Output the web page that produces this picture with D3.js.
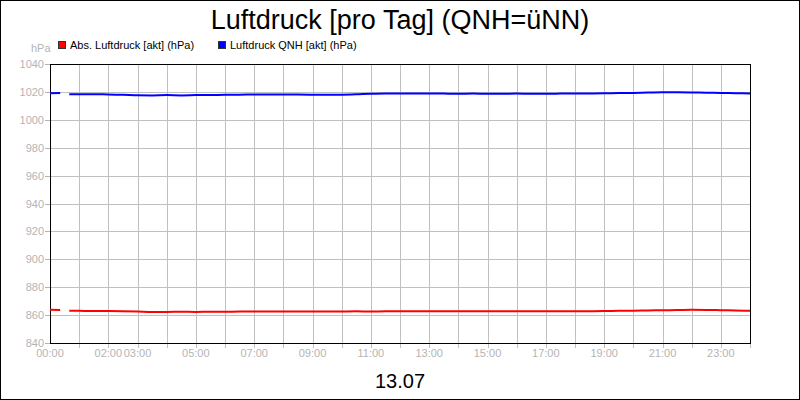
<!DOCTYPE html>
<html>
<head>
<meta charset="utf-8">
<script src="https://cdn.jsdelivr.net/npm/d3@7"></script>
<style>
  body { margin: 0; background: #fff; }
  svg { display: block; font-family: "Liberation Sans", Arial, sans-serif; }
</style>
</head>
<body>
<svg id="chart"></svg>
<script>
// Data (hour of day -> hPa), null = no data
var hours = [0, 0.35, 0.5, 0.66, 1, 1.5, 2, 2.5, 3, 3.5, 4, 4.5, 5, 5.5, 6, 6.5, 7, 7.5, 8, 8.5, 9, 9.5, 10, 10.5, 11, 11.5, 12,
  12.5, 13, 13.5, 14, 14.5, 15, 15.5, 16, 16.5, 17, 17.5, 18, 18.5, 19, 19.5, 20, 20.5, 21, 21.5, 22, 22.5, 23, 23.5, 24]
var qnh = [1019.0, 1019.3, null, 1018.3, 1018.3, 1018.4, 1018.1, 1017.9, 1017.6, 1017.5, 1017.7, 1017.5, 1017.7, 1017.8, 1017.9, 1018.0,
  1018.1, 1018.2, 1018.2, 1018.1, 1018.0, 1017.9, 1018.0, 1018.3, 1018.7, 1018.9, 1018.8, 1018.8, 1018.9, 1018.8, 1018.7,
  1018.8, 1018.7, 1018.7, 1018.8, 1018.7, 1018.7, 1018.8, 1018.9, 1018.9, 1019.0, 1019.2, 1019.3, 1019.5, 1019.7, 1019.7,
  1019.6, 1019.4, 1019.3, 1019.1, 1018.9]
var absolut = [863.8, 863.6, null, 863.2, 863.1, 862.9, 862.9, 862.8, 862.6, 862.3, 862.3, 862.4, 862.3, 862.4, 862.4, 862.5,
  862.5, 862.6, 862.6, 862.5, 862.5, 862.5, 862.6, 862.7, 862.6, 862.7, 862.7, 862.7, 862.8, 862.7, 862.7,
  862.8, 862.7, 862.7, 862.7, 862.8, 862.7, 862.8, 862.8, 862.8, 862.9, 863.1, 863.2, 863.3, 863.5, 863.6,
  863.8, 863.7, 863.5, 863.3, 863.1]
var yTicks = [840, 860, 880, 900, 920, 940, 960, 980, 1000, 1020, 1040]
var xLabels = ['00:00', '02:00', '03:00', '05:00', '07:00', '09:00', '11:00', '13:00', '15:00', '17:00', '19:00', '21:00', '23:00']
var xLabelHours = [0, 2, 3, 5, 7, 9, 11, 13, 15, 17, 19, 21, 23]
var series = [
  { name: 'Abs. Luftdruck [akt] (hPa)', color: '#ff0000', values: absolut },
  { name: 'Luftdruck QNH [akt] (hPa)', color: '#0000ff', values: qnh }
]

var width = 800,
    height = 400,
    grey = '#b4b4b4',
    gridColor = '#c0c0c0'

var svg = d3.select('#chart')
  .attr('width', width)
  .attr('height', height)

svg.append('rect')
  .attr('x', 0.5).attr('y', 0.5)
  .attr('width', width - 1).attr('height', height - 1)
  .attr('fill', '#fff').attr('stroke', '#000')

var x = d3.scaleLinear().domain([0, 24]).range([50, 750])
var y = d3.scaleLinear().domain([840, 1040]).range([343, 64])

// grid
svg.append('g')
  .selectAll('line')
  .data(d3.range(1, 24))
  .enter()
  .append('line')
  .attr('x1', function (d) { return Math.round(x(d)) + 0.5 })
  .attr('x2', function (d) { return Math.round(x(d)) + 0.5 })
  .attr('y1', y(1040)).attr('y2', y(840) + 5)
  .attr('stroke', gridColor)

svg.append('g')
  .selectAll('line')
  .data(yTicks.slice(1, -1))
  .enter()
  .append('line')
  .attr('x1', x(0)).attr('x2', x(24))
  .attr('y1', function (d) { return Math.round(y(d)) + 0.5 })
  .attr('y2', function (d) { return Math.round(y(d)) + 0.5 })
  .attr('stroke', gridColor)

// y axis labels + ticks
svg.append('g')
  .selectAll('line')
  .data(yTicks)
  .enter()
  .append('line')
  .attr('x1', 45).attr('x2', 50)
  .attr('y1', function (d) { return Math.round(y(d)) + 0.5 })
  .attr('y2', function (d) { return Math.round(y(d)) + 0.5 })
  .attr('stroke', grey)

svg.append('g')
  .selectAll('text')
  .data(yTicks)
  .enter()
  .append('text')
  .attr('x', 44)
  .attr('y', function (d) { return y(d) + 4 })
  .attr('text-anchor', 'end')
  .attr('font-size', 11)
  .attr('fill', grey)
  .text(function (d) { return d })

svg.append('text')
  .attr('x', 31).attr('y', 52)
  .attr('font-size', 11)
  .attr('fill', grey)
  .text('hPa')

// x labels + end tick
svg.append('line')
  .attr('x1', x(24) + 0.5).attr('x2', x(24) + 0.5)
  .attr('y1', y(840)).attr('y2', y(840) + 5)
  .attr('stroke', gridColor)

svg.append('g')
  .selectAll('text')
  .data(xLabelHours)
  .enter()
  .append('text')
  .attr('x', function (d) { return x(d) })
  .attr('y', 357)
  .attr('text-anchor', 'middle')
  .attr('font-size', 11)
  .attr('fill', grey)
  .text(function (d, i) { return xLabels[i] })

// frame of plot
svg.append('rect')
  .attr('x', x(0) + 0.5).attr('y', y(1040) + 0.5)
  .attr('width', x(24) - x(0)).attr('height', y(840) - y(1040))
  .attr('fill', 'none').attr('stroke', '#000')

// lines
var line = d3.line()
  .defined(function (d) { return d[1] !== null })
  .x(function (d) { return x(d[0]) })
  .y(function (d) { return y(d[1]) })
  .curve(d3.curveMonotoneX)

svg.append('g')
  .selectAll('path')
  .data(series)
  .enter()
  .append('path')
  .attr('fill', 'none')
  .attr('stroke', function (d) { return d.color })
  .attr('stroke-width', 2)
  .attr('d', function (d) { return line(hours.map(function (h, i) { return [h, d.values[i]] })) })

// legend
var legend = svg.append('g')
  .selectAll('g')
  .data(series)
  .enter()
  .append('g')
  .attr('transform', function (d, i) { return 'translate(' + (58 + i * 160) + ',41)' })

legend.append('rect')
  .attr('x', 0.5).attr('y', 0.5)
  .attr('width', 7).attr('height', 7)
  .attr('fill', function (d) { return d.color })
  .attr('stroke', '#333')

legend.append('text')
  .attr('x', 12).attr('y', 8)
  .attr('font-size', 11)
  .attr('fill', '#000')
  .text(function (d) { return d.name })

// title + date
svg.append('text')
  .attr('x', 400).attr('y', 29)
  .attr('text-anchor', 'middle')
  .attr('font-size', 27)
  .text('Luftdruck [pro Tag] (QNH=üNN)')

svg.append('text')
  .attr('x', 400).attr('y', 388)
  .attr('text-anchor', 'middle')
  .attr('font-size', 20)
  .text('13.07')
</script>
</body>
</html>
